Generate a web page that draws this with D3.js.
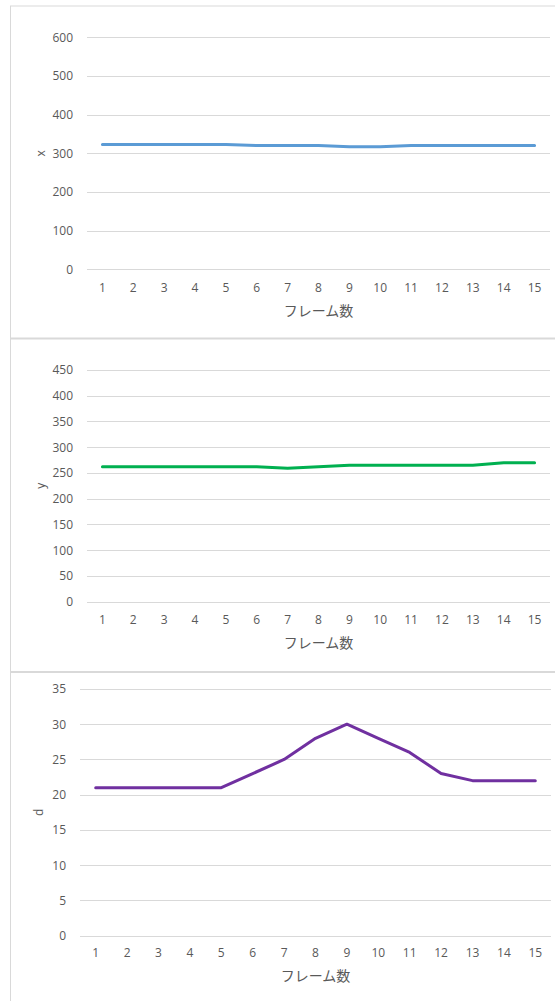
<!DOCTYPE html>
<html>
<head>
<meta charset="utf-8">
<script src="https://cdn.jsdelivr.net/npm/d3@7"></script>
<style>
  html, body { margin: 0; padding: 0; background: #fff; }
  svg { display: block; }
  .tick text { font-family: "Open Sans", "Liberation Sans", sans-serif; font-size: 12px; fill: #595959; }
  .axis-title { font-family: "Noto Sans CJK JP", sans-serif; font-size: 14px; fill: #595959; }
  .y-title { font-family: "Open Sans", "Liberation Sans", sans-serif; font-size: 12px; fill: #595959; }
</style>
</head>
<body>
<script>
// Frame numbers shared by all three panels
const frames = [1, 2, 3, 4, 5, 6, 7, 8, 9, 10, 11, 12, 13, 14, 15];

// Tracked values per frame
const xValues = [323, 323, 323, 323, 323, 320, 320, 320, 317, 317, 320, 320, 320, 320, 320];
const yValues = [262, 262, 262, 262, 262, 262, 259, 262, 265, 265, 265, 265, 265, 270, 270];
const dValues = [21, 21, 21, 21, 21, 23, 25, 28, 30, 28, 26, 23, 22, 22, 22];

// Y axis tick sets
const xTicks = [0, 100, 200, 300, 400, 500, 600];
const yTicks = [0, 50, 100, 150, 200, 250, 300, 350, 400, 450];
const dTicks = [0, 5, 10, 15, 20, 25, 30, 35];

const xAxisTitle = "フレーム数";

const W = 555, H = 1001;
const svg = d3.select("body").append("svg").attr("width", W).attr("height", H);

// Panel frames
const border = "#d9d9d9";
svg.append("line").attr("x1", 10.5).attr("x2", 10.5).attr("y1", 6).attr("y2", H)
  .attr("stroke", border).attr("stroke-width", 1);
[6, 338.5, 672].forEach((y, i) => {
  svg.append("line").attr("x1", 10).attr("x2", W).attr("y1", y).attr("y2", y)
    .attr("stroke", border).attr("stroke-width", i === 0 ? 1 : 2);
});

const panels = [
  { name: "x", values: xValues, ticks: xTicks, color: "#5b9bd5",
    left: 87, right: 550, top: 37.3, bottom: 269.3, tickY: 292, titleY: 316, nameX: 41 },
  { name: "y", values: yValues, ticks: yTicks, color: "#00b050",
    left: 87, right: 550, top: 370, bottom: 601.7, tickY: 624, titleY: 648, nameX: 41 },
  { name: "d", values: dValues, ticks: dTicks, color: "#7030a0",
    left: 80, right: 551, top: 689, bottom: 935.7, tickY: 957, titleY: 981, nameX: 39 }
];

panels.forEach(p => {
  const g = svg.append("g");
  const x = d3.scaleBand().domain(frames).range([p.left, p.right]);
  const y = d3.scaleLinear().domain([0, d3.max(p.ticks)]).range([p.bottom, p.top]);

  // Horizontal gridlines
  g.selectAll("line.grid").data(p.ticks).join("line")
    .attr("class", "grid")
    .attr("x1", p.left).attr("x2", p.right)
    .attr("y1", d => Math.round(y(d)) + 0.5).attr("y2", d => Math.round(y(d)) + 0.5)
    .attr("stroke", "#d9d9d9").attr("stroke-width", 1);

  // Y axis labels
  const yAxis = d3.axisLeft(y).tickValues(p.ticks).tickSize(0).tickPadding(14);
  g.append("g").attr("transform", `translate(${p.left},0)`).call(yAxis)
    .call(s => s.select(".domain").remove());

  // X axis labels
  const xAxis = d3.axisBottom(x).tickSize(0).tickPadding(0);
  g.append("g").attr("transform", `translate(0,${p.tickY - 9})`).call(xAxis)
    .call(s => s.select(".domain").remove());

  // Axis titles
  g.append("text").attr("class", "axis-title")
    .attr("x", (p.left + p.right) / 2).attr("y", p.titleY)
    .attr("text-anchor", "middle").text(xAxisTitle);
  g.append("text").attr("class", "y-title")
    .attr("transform", `translate(${p.nameX},${(p.top + p.bottom) / 2}) rotate(-90)`)
    .attr("text-anchor", "middle").attr("dy", "0.35em").text(p.name);

  // Series line
  const line = d3.line()
    .x((d, i) => x(frames[i]) + x.bandwidth() / 2)
    .y(d => y(d));
  g.append("path").datum(p.values)
    .attr("fill", "none").attr("stroke", p.color)
    .attr("stroke-width", 3).attr("stroke-linejoin", "round").attr("stroke-linecap", "round")
    .attr("d", line);
});
</script>
</body>
</html>
